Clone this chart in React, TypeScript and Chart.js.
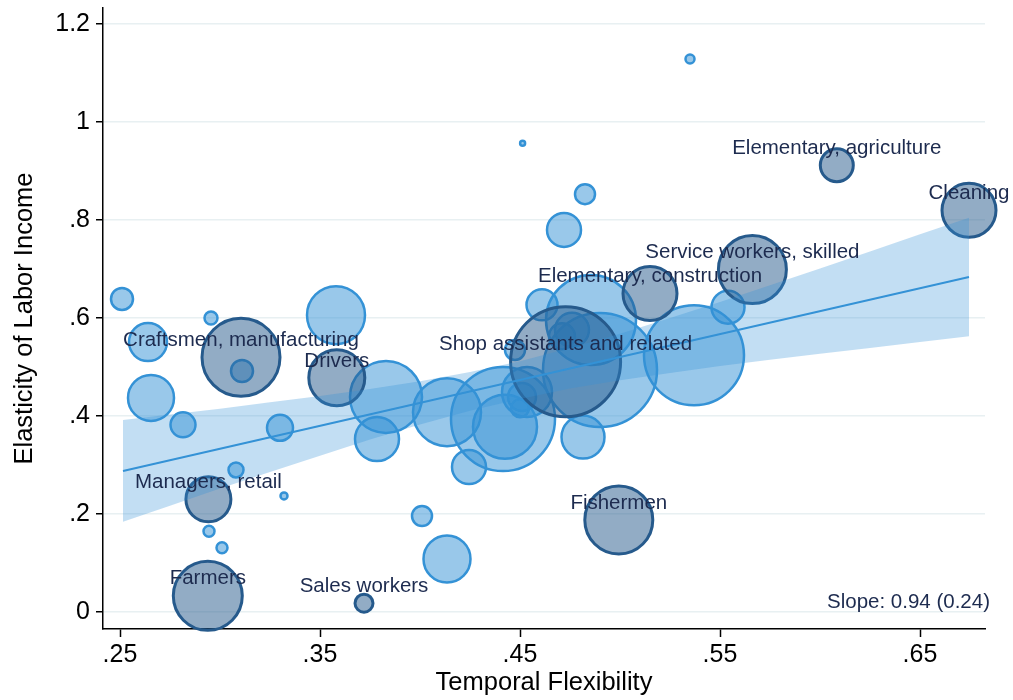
import React, { useEffect, useRef } from "react";
import { Chart, registerables } from "chart.js";

Chart.register(...registerables);

// Unlabelled occupations (light bubbles)
const lightX = [0.251, 0.264, 0.2655, 0.2815, 0.2955, 0.308, 0.2945, 0.301, 0.311, 0.33, 0.332, 0.358, 0.383, 0.3785, 0.401, 0.4135, 0.4135, 0.4245, 0.4415, 0.4425, 0.4475, 0.4535, 0.451, 0.45, 0.4513, 0.461, 0.4855, 0.476, 0.471, 0.49, 0.4815, 0.472, 0.4825, 0.535, 0.537, 0.554];
const lightY = [0.639, 0.551, 0.437, 0.382, 0.6, 0.29, 0.165, 0.131, 0.492, 0.376, 0.237, 0.606, 0.439, 0.353, 0.196, 0.108, 0.408, 0.296, 0.394, 0.378, 0.535, 0.449, 0.439, 0.416, 0.957, 0.627, 0.596, 0.576, 0.563, 0.494, 0.357, 0.78, 0.853, 1.129, 0.524, 0.622];
const lightR = [11, 19, 23, 12.5, 6.5, 7.5, 5.5, 5.5, 11, 13, 3.5, 29, 36, 22, 10, 23.5, 34, 17, 52, 32, 10, 25, 14, 9, 2.5, 15.5, 45, 17, 13, 57, 21.5, 17, 10, 4.5, 50, 16.5];

// Labelled occupations (dark bubbles)
const occLabels = [
  "Craftsmen, manufacturing",
  "Drivers",
  "Managers, retail",
  "Farmers",
  "Sales workers",
  "Shop assistants and related",
  "Fishermen",
  "Elementary, construction",
  "Service workers, skilled",
  "Elementary, agriculture",
  "Cleaning",
];
const occX = [0.3105, 0.3584, 0.2942, 0.2939, 0.372, 0.4728, 0.4994, 0.515, 0.5662, 0.6084, 0.6745];
const occY = [0.52, 0.478, 0.23, 0.033, 0.018, 0.511, 0.188, 0.65, 0.699, 0.912, 0.82];
const occR = [39, 28, 22.5, 34.5, 9, 55, 34, 27, 34, 16.5, 27];

// Fitted line and confidence band
const fitX = [0.2515, 0.6745];
const fitY = [0.288, 0.684];
const ciX = [0.2515, 0.275, 0.3, 0.325, 0.35, 0.375, 0.4, 0.425, 0.45, 0.475, 0.5, 0.525, 0.55, 0.575, 0.6, 0.625, 0.65, 0.6745];
const ciUpper = [0.392, 0.403, 0.415, 0.428, 0.441, 0.455, 0.471, 0.49, 0.512, 0.539, 0.568, 0.6, 0.633, 0.667, 0.701, 0.736, 0.771, 0.805];
const ciLower = [0.184, 0.217, 0.252, 0.286, 0.319, 0.352, 0.383, 0.411, 0.435, 0.456, 0.473, 0.488, 0.502, 0.515, 0.527, 0.539, 0.551, 0.563];

const xTicks = [0.25, 0.35, 0.45, 0.55, 0.65];
const xTickLabels = [".25", ".35", ".45", ".55", ".65"];
const yTicks = [0, 0.2, 0.4, 0.6, 0.8, 1, 1.2];
const yTickLabels = ["0", ".2", ".4", ".6", ".8", "1", "1.2"];
const slopeText = "Slope: 0.94 (0.24)";

const FONT = "'Liberation Sans', Arial, Helvetica, sans-serif";
const BLUE = "rgb(52,146,214)";
const NAVY = "rgb(38,90,140)";

const labelPlugin = {
  id: "occLabels",
  afterDatasetsDraw(chart: any) {
    const { ctx, chartArea } = chart;
    const xs = chart.scales.x;
    const ys = chart.scales.y;
    ctx.save();
    ctx.font = `20.5px ${FONT}`;
    ctx.fillStyle = "#1d2b4f";
    ctx.textAlign = "center";
    ctx.textBaseline = "middle";
    occLabels.forEach((t, i) => {
      ctx.fillText(t, xs.getPixelForValue(occX[i]), ys.getPixelForValue(occY[i]) - 17);
    });
    ctx.textAlign = "right";
    ctx.fillText(slopeText, chartArea.right + 5, ys.getPixelForValue(0) - 10);
    ctx.restore();
  },
};

export default function App() {
  const ref = useRef<HTMLCanvasElement>(null);

  useEffect(() => {
    if (!ref.current) return;
    const chart = new Chart(ref.current, {
      type: "bubble",
      data: {
        datasets: [
          {
            type: "line",
            label: "fit",
            data: fitX.map((x, i) => ({ x, y: fitY[i] })),
            borderColor: BLUE,
            borderWidth: 2,
            pointRadius: 0,
            fill: false,
            order: 0,
          } as any,
          {
            type: "line",
            label: "ciUpper",
            data: ciX.map((x, i) => ({ x, y: ciUpper[i] })),
            borderWidth: 0,
            borderColor: "rgba(0,0,0,0)",
            pointRadius: 0,
            fill: "+1",
            backgroundColor: "rgba(52,146,214,0.3)",
            order: 1,
          } as any,
          {
            type: "line",
            label: "ciLower",
            data: ciX.map((x, i) => ({ x, y: ciLower[i] })),
            borderWidth: 0,
            borderColor: "rgba(0,0,0,0)",
            pointRadius: 0,
            fill: false,
            order: 1,
          } as any,
          {
            type: "bubble",
            label: "labelled",
            data: occX.map((x, i) => ({ x, y: occY[i], r: occR[i] })),
            backgroundColor: "rgba(38,90,140,0.5)",
            borderColor: NAVY,
            borderWidth: 3,
            clip: false,
            order: 2,
          } as any,
          {
            type: "bubble",
            label: "other",
            data: lightX.map((x, i) => ({ x, y: lightY[i], r: lightR[i] })),
            backgroundColor: "rgba(52,146,214,0.5)",
            borderColor: BLUE,
            borderWidth: 2.5,
            clip: false,
            order: 3,
          } as any,
        ],
      },
      options: {
        responsive: false,
        animation: false,
        events: [],
        devicePixelRatio: 1,
        layout: { autoPadding: false, padding: { top: 8, right: 28, bottom: 0, left: 0 } },
        plugins: {
          legend: { display: false },
          tooltip: { enabled: false },
        },
        scales: {
          x: {
            type: "linear",
            min: 0.2415,
            max: 0.6825,
            afterBuildTicks: (s: any) => {
              s.ticks = xTicks.map((v) => ({ value: v }));
            },
            afterFit: (s: any) => {
              s.height = 71;
              s.paddingLeft = 0;
              s.paddingRight = 0;
            },
            ticks: {
              autoSkip: false,
              maxRotation: 0,
              padding: 3,
              color: "#000",
              font: { size: 25, family: FONT },
              callback: (_v: any, i: number) => xTickLabels[i],
            },
            grid: {
              drawOnChartArea: false,
              drawTicks: true,
              tickLength: 8,
              tickColor: "#000",
              tickWidth: 1.5,
            },
            border: { display: true, color: "#000", width: 1.5 },
            title: {
              display: true,
              text: "Temporal Flexibility",
              color: "#000",
              font: { size: 25.5, family: FONT, lineHeight: 1 },
              padding: { top: 0, bottom: 4 },
            },
          },
          y: {
            type: "linear",
            min: -0.0347,
            max: 1.233,
            afterBuildTicks: (s: any) => {
              s.ticks = yTicks.map((v) => ({ value: v }));
            },
            afterFit: (s: any) => {
              s.width = 103;
              s.paddingTop = 0;
              s.paddingBottom = 0;
            },
            ticks: {
              autoSkip: false,
              padding: 6,
              color: "#000",
              font: { size: 25, family: FONT },
              callback: (_v: any, i: number) => yTickLabels[i],
            },
            grid: {
              color: "#e8f0f2",
              lineWidth: 1.5,
              drawTicks: true,
              tickLength: 7,
              tickColor: "#000",
              tickWidth: 1.5,
            },
            border: { display: true, color: "#000", width: 1.5 },
            title: {
              display: true,
              text: "Elasticity of Labor Income",
              color: "#000",
              font: { size: 25.5, family: FONT, lineHeight: 1 },
              padding: { top: 12, bottom: 0 },
            },
          },
        },
      } as any,
      plugins: [labelPlugin],
    });
    return () => chart.destroy();
  }, []);

  return (
    <div style={{ position: "absolute", left: 0, top: 0, width: 1013, height: 700, background: "#fff" }}>
      <canvas ref={ref} width={1013} height={700} style={{ width: 1013, height: 700, display: "block" }} />
    </div>
  );
}
